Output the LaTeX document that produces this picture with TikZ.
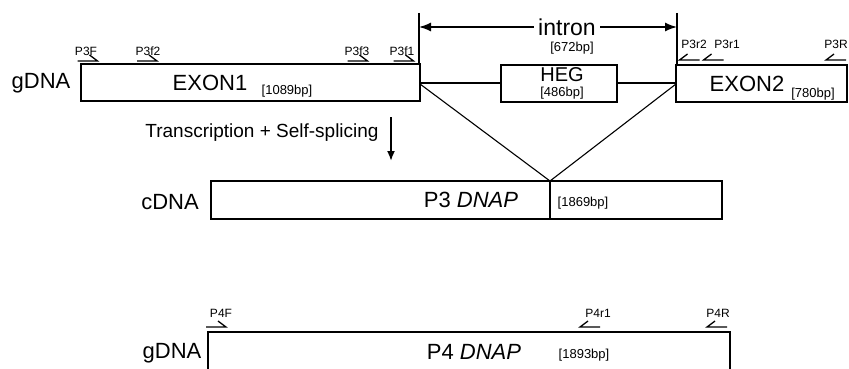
\documentclass[tikz,border=0pt]{standalone}
\usepackage{fontspec}
\setmainfont{Liberation Sans}
\usetikzlibrary{arrows.meta}
\tikzset{
  fprim/.pic={\draw[primer] (-10,0) -- (10,0) -- (2,-6);},
  rprim/.pic={\draw[primer] (10,0) -- (-10,0) -- (-2,-6);},
}
\begin{document}
\begin{tikzpicture}[x=1pt,y=-1pt,
  box/.style={draw, line width=1.8pt, rectangle, inner sep=0pt, fill=white},
  big/.style={inner sep=0pt, font=\fontsize{22}{24}\selectfont},
  bp/.style={inner sep=0pt, font=\fontsize{13}{14}\selectfont},
  plbl/.style={inner sep=0pt, font=\fontsize{12}{13}\selectfont},
  primer/.style={line width=1.3pt},
  splice/.style={line width=1.1pt},
  introline/.style={line width=2.4pt},
  dim/.style={line width=1.4pt}]
\useasboundingbox (0,0) rectangle (849,369);

% coordinates
\coordinate (vl1) at (419,13);
\coordinate (vl2) at (419,64);
\coordinate (vr1) at (677,13);
\coordinate (vr2) at (677,65);
\coordinate (ia) at (419,27);
\coordinate (ib) at (677,27);
\coordinate (sp) at (550,181);
\coordinate (spb) at (550,219);
\coordinate (ta) at (391,117);
\coordinate (tb) at (391,161);

% splicing lines (behind boxes)
\draw[splice] (420,84) -- (sp);
\draw[splice] (676,84) -- (sp);

% intron line
\draw[introline] (420,83) -- (676,83);

% gDNA (P3) boxes
\node[box, minimum width=339pt, minimum height=37pt] (ex1) at (250.5,82.5) {};
\node[box, minimum width=116pt, minimum height=37pt] (heg) at (559,83.5) {};
\node[box, minimum width=171pt, minimum height=37pt] (ex2) at (761.5,83.5) {};

% intron dimension
\draw[dim] (vl1) -- (vl2);
\draw[dim] (vr1) -- (vr2);
\draw[dim, {Latex[length=12pt,width=9pt]}-{Latex[length=12pt,width=9pt]}] (ia) -- (ib);
\node[big, fill=white, inner xsep=4pt, inner ysep=2pt, font=\fontsize{23}{25}\selectfont] (intron) at (567,27) {intron};
\node[bp] (ibp) at (572,48) {[672bp]};

% labels in gDNA row
\node[big] (g1) at (41,83) {gDNA};
\node[big] (e1t) at (210,83) {EXON1};
\node[bp] (e1bp) at (287,91) {[1089bp]};
\node[inner sep=0pt, font=\fontsize{20}{22}\selectfont] (hegt) at (562,74.5) {HEG};
\node[bp] (hegbp) at (562,93) {[486bp]};
\node[big] (e2t) at (747,84) {EXON2};
\node[bp] (e2bp) at (813,94) {[780bp]};

% primers P3
\pic (pF) at (87.5,61) {fprim};
\pic (pf2) at (147,61) {fprim};
\pic (pf3) at (357.5,61) {fprim};
\pic (pf1) at (403.5,61) {fprim};
\pic (pr2) at (689.5,60) {rprim};
\pic (pr1) at (713.5,60) {rprim};
\pic (pR) at (836,60) {rprim};
\node[plbl] (lF) at (86,51) {P3F};
\node[plbl] (lf2) at (148,51) {P3f2};
\node[plbl] (lf3) at (357,51) {P3f3};
\node[plbl] (lf1) at (402,51) {P3f1};
\node[plbl] (lr2) at (694,44) {P3r2};
\node[plbl] (lr1) at (727,44) {P3r1};
\node[plbl] (lR) at (836,44) {P3R};

% transcription
\node[inner sep=0pt, font=\fontsize{19}{21}\selectfont] (tr) at (262,133) {Transcription + Self-splicing};
\draw[line width=1.8pt, -{Latex[length=10pt,width=8pt]}] (ta) -- (tb);

% cDNA
\node[box, minimum width=511pt, minimum height=38pt] (cd) at (466.5,200) {};
\draw[splice, line width=1.4pt] (sp) -- (spb);
\node[big] (cdl) at (170,202) {cDNA};
\node[big] (p3t) at (471,200) {P3 \textit{DNAP}};
\node[bp] (p3bp) at (583,203) {[1869bp]};

% P4 gDNA
\node[box, minimum width=522pt, minimum height=38pt] (p4) at (469,351) {};
\node[big] (g2) at (172,353) {gDNA};
\node[big] (p4t) at (474,352) {P4 \textit{DNAP}};
\node[bp] (p4bp) at (584,355) {[1893bp]};
\pic (qF) at (216,327) {fprim};
\pic (qr1) at (590,327) {rprim};
\pic (qR) at (717,327) {rprim};
\node[plbl] (mF) at (221,313) {P4F};
\node[plbl] (mr1) at (598,313) {P4r1};
\node[plbl] (mR) at (718,313) {P4R};
\end{tikzpicture}
\end{document}
